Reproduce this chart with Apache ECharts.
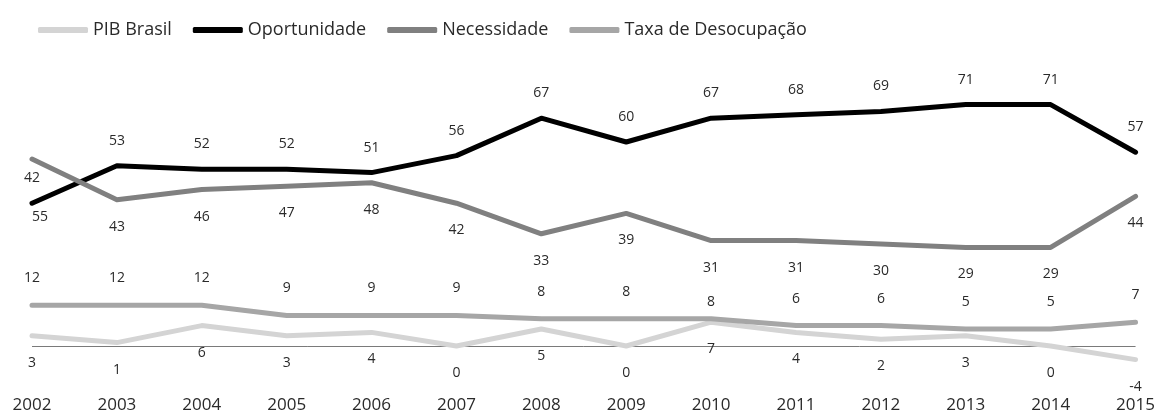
<!DOCTYPE html>
<html>
<head>
<meta charset="utf-8">
<script src="https://cdn.jsdelivr.net/npm/echarts@6/dist/echarts.min.js"></script>
<style>
html,body{margin:0;padding:0;background:#fff;}
#chart{width:1158px;height:414px;}
</style>
</head>
<body>
<div id="chart"></div>
<script>
const years = ['2002','2003','2004','2005','2006','2007','2008','2009','2010','2011','2012','2013','2014','2015'];
const pibBrasil = [3, 1, 6, 3, 4, 0, 5, 0, 7, 4, 2, 3, 0, -4];
const oportunidade = [42, 53, 52, 52, 51, 56, 67, 60, 67, 68, 69, 71, 71, 57];
const necessidade = [55, 43, 46, 47, 48, 42, 33, 39, 31, 31, 30, 29, 29, 44];
const taxaDesocupacao = [12, 12, 12, 9, 9, 9, 8, 8, 8, 6, 6, 5, 5, 7];

const labelFont = {fontFamily: 'Open Sans', fontSize: 14, color: '#2a2a2a'};
const lineBase = {type: 'line', symbol: 'circle', symbolSize: 0, showSymbol: true, z: 2};

const necData = necessidade.map((v, i) => i === 0 ? {value: v, label: {offset: [8, 31]}} : v);
const taxaData = taxaDesocupacao.map((v, i) => i === 8 ? {value: v, label: {offset: [0, 10]}} : v);

const chart = echarts.init(document.getElementById('chart'), null, {renderer: 'canvas'});
chart.setOption({
  animation: false,
  backgroundColor: '#fff',
  legend: {
    left: 33, top: 16,
    itemWidth: 50, itemHeight: 6, itemGap: 21,
    icon: 'roundRect',
    textStyle: {fontFamily: 'Open Sans', fontSize: 18, color: '#2a2a2a'},
    data: ['PIB Brasil', 'Oportunidade', 'Necessidade', 'Taxa de Desocupação']
  },
  grid: {left: 32, right: 22, top: 74, bottom: 34},
  xAxis: {
    type: 'category', data: years, boundaryGap: false,
    axisLine: {show: false}, axisTick: {show: false}, splitLine: {show: false},
    axisLabel: {fontFamily: 'Open Sans', fontSize: 17, color: '#2a2a2a', margin: 17, interval: 0}
  },
  yAxis: {
    type: 'value', min: -10, max: 80, show: false, splitLine: {show: false}
  },
  series: [
    Object.assign({}, lineBase, {
      name: 'PIB Brasil', data: pibBrasil, color: '#d4d4d4',
      lineStyle: {width: 5, color: '#d4d4d4', cap: 'round', join: 'round'},
      label: Object.assign({show: true, position: 'bottom', distance: 20}, labelFont),
      markLine: {
        silent: true, symbol: ['none', 'none'], label: {show: false},
        lineStyle: {color: '#7a7a7a', width: 1, type: 'solid'},
        data: [{yAxis: 0}], z: 1
      }
    }),
    Object.assign({}, lineBase, {
      name: 'Oportunidade', data: oportunidade, color: '#000',
      lineStyle: {width: 5, color: '#000', cap: 'round', join: 'round'},
      label: Object.assign({show: true, position: 'top', distance: 18}, labelFont)
    }),
    Object.assign({}, lineBase, {
      name: 'Necessidade', data: necData, color: '#808080',
      lineStyle: {width: 5, color: '#808080', cap: 'round', join: 'round'},
      label: Object.assign({show: true, position: 'bottom', distance: 20}, labelFont)
    }),
    Object.assign({}, lineBase, {
      name: 'Taxa de Desocupação', data: taxaData, color: '#a6a6a6',
      lineStyle: {width: 5, color: '#a6a6a6', cap: 'round', join: 'round'},
      label: Object.assign({show: true, position: 'top', distance: 20}, labelFont)
    })
  ]
});
</script>
</body>
</html>
